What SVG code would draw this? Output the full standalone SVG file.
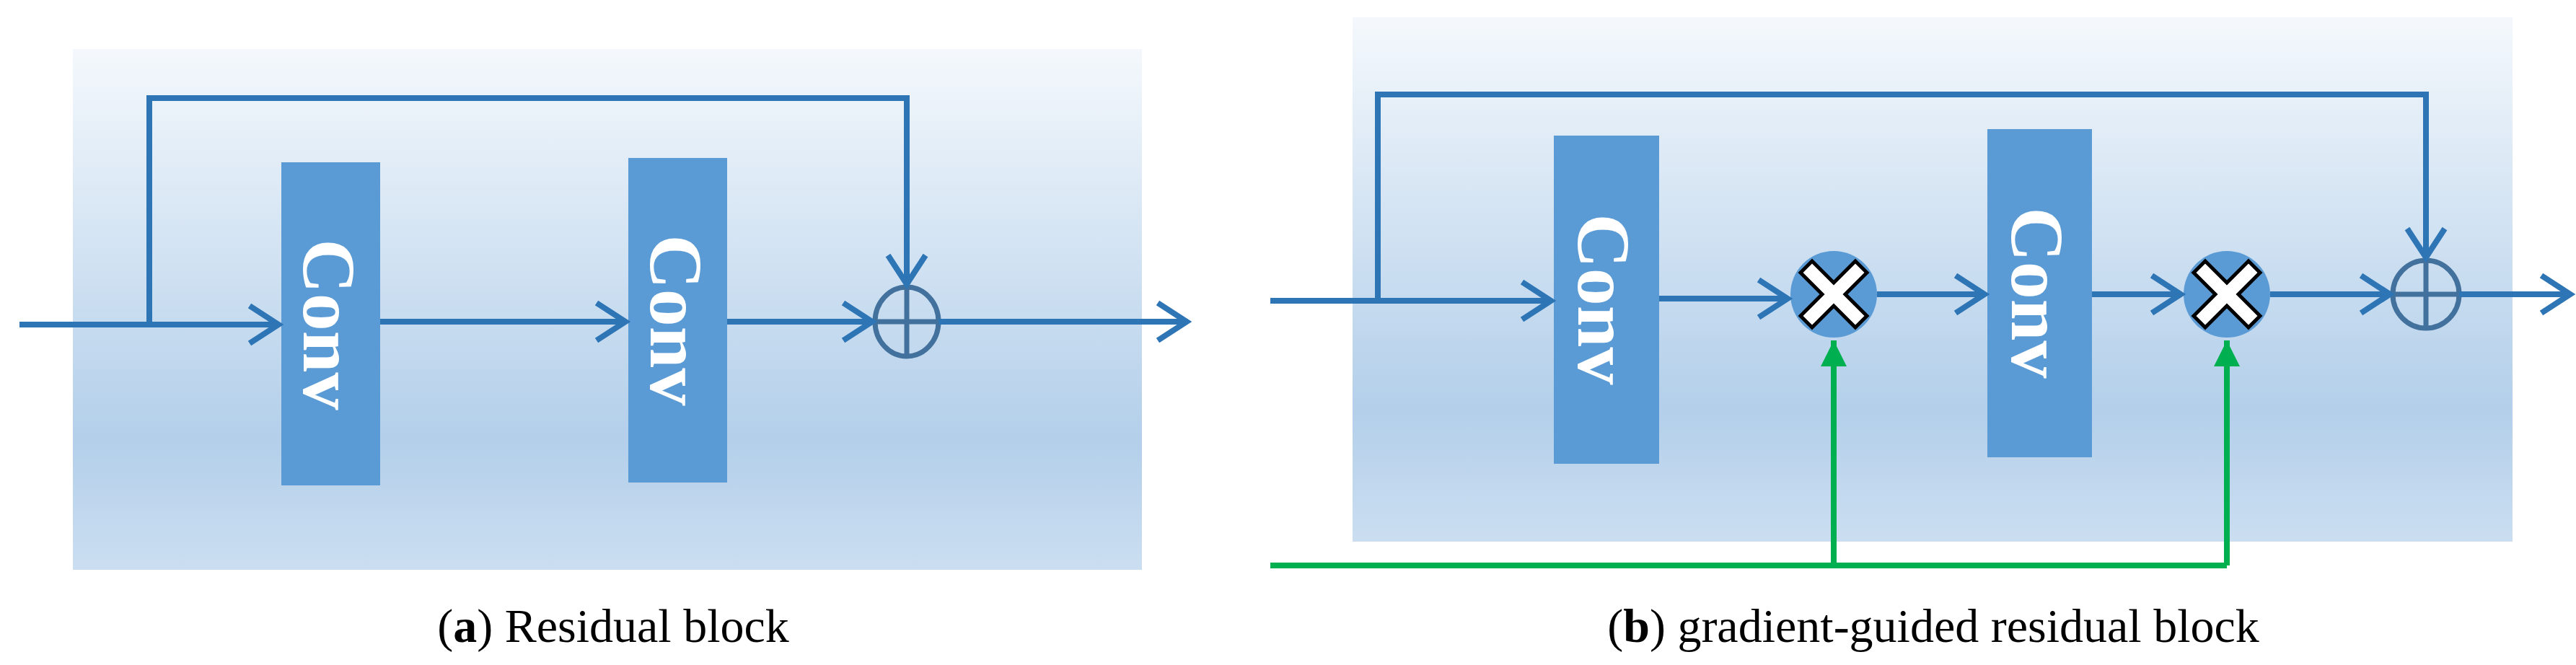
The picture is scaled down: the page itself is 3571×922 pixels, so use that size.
<svg xmlns="http://www.w3.org/2000/svg" width="3571" height="922" viewBox="0 0 3571 922">
<style>
.bg{fill:url(#g)}
.conv{fill:#5b9bd5}
.ct{fill:#fff;font-family:"Liberation Serif",serif;font-weight:bold;font-size:104px}
.ln{fill:none;stroke:#2e75b6;stroke-width:8}
.gr{fill:none;stroke:#00b050;stroke-width:8}
.plus{fill:none;stroke:#41719c;stroke-width:7}
.cap{font-family:"Liberation Serif",serif;font-size:66px;fill:#000}
</style>
<defs>
<linearGradient id="g" x1="0" y1="0" x2="0" y2="1">
<stop offset="0" stop-color="#f4f8fc"/>
<stop offset="0.75" stop-color="#b3cfea"/>
<stop offset="1" stop-color="#cbdef1"/>
</linearGradient>
<marker id="a" markerUnits="userSpaceOnUse" markerWidth="60" markerHeight="70" refX="44" refY="30" orient="auto" overflow="visible">
<path d="M4,4 L44,30 L4,56" fill="none" stroke="#2e75b6" stroke-width="8"/>
</marker>
<marker id="ag" markerUnits="userSpaceOnUse" markerWidth="40" markerHeight="50" refX="36" refY="18" orient="auto" overflow="visible">
<path d="M0,0 L36,18 L0,36 Z" fill="#00b050"/>
</marker>
<g id="xmark"><path d="M-30,-46 L0,-16 L30,-46 L46,-30 L16,0 L46,30 L30,46 L0,16 L-30,46 L-46,30 L-16,0 L-46,-30 Z" fill="#fff" stroke="#000" stroke-width="5"/></g>
</defs>
<rect class="bg" x="101" y="68" width="1482" height="722"/>
<rect class="bg" x="1875" y="24" width="1608" height="727"/>
<g id="a-conv1"><rect class="conv" x="390" y="225" width="137" height="448"/><text class="ct" transform="translate(421,450) rotate(90)" text-anchor="middle">Conv</text></g>
<g id="a-conv2"><rect class="conv" x="871" y="219" width="137" height="450"/><text class="ct" transform="translate(902,444) rotate(90)" text-anchor="middle">Conv</text></g>
<g id="a-plus"><ellipse class="plus" cx="1257" cy="446" rx="44" ry="48"/><path class="plus" d="M1257,398 V494 M1213,446 H1301"/></g>
<g id="b-conv1"><rect class="conv" x="2154" y="188" width="146" height="455"/><text class="ct" transform="translate(2188,415) rotate(90)" text-anchor="middle">Conv</text></g>
<g id="b-conv2"><rect class="conv" x="2755" y="179" width="145" height="455"/><text class="ct" transform="translate(2789,406) rotate(90)" text-anchor="middle">Conv</text></g>
<g id="b-mul1"><circle cx="2542" cy="408" r="60" fill="#5b9bd5"/><use href="#xmark" x="2542" y="408"/></g>
<g id="b-mul2"><circle cx="3087" cy="408" r="60" fill="#5b9bd5"/><use href="#xmark" x="3087" y="408"/></g>
<g id="b-plus"><ellipse class="plus" cx="3363" cy="408" rx="46" ry="47"/><path class="plus" d="M3363,361 V455 M3317,408 H3409"/></g>
<g id="connectors">
<path class="ln" d="M27,450 H386" marker-end="url(#a)"/>
<path class="ln" d="M207,450 V136 H1257 V394" marker-end="url(#a)"/>
<path class="ln" d="M527,446 H867" marker-end="url(#a)"/>
<path class="ln" d="M1008,446 H1209" marker-end="url(#a)"/>
<path class="ln" d="M1301,446 H1645" marker-end="url(#a)"/>
<path class="ln" d="M1761,417 H2150" marker-end="url(#a)"/>
<path class="ln" d="M1910,417 V131 H3363 V357" marker-end="url(#a)"/>
<path class="ln" d="M2300,414 H2478" marker-end="url(#a)"/>
<path class="ln" d="M2602,408 H2751" marker-end="url(#a)"/>
<path class="ln" d="M2900,408 H3023" marker-end="url(#a)"/>
<path class="ln" d="M3147,408 H3313" marker-end="url(#a)"/>
<path class="ln" d="M3409,408 H3563" marker-end="url(#a)"/>
<path class="gr" d="M1761,784 H3087"/>
<path class="gr" stroke-width="5" d="M2542,784 V472" marker-end="url(#ag)"/>
<path class="gr" stroke-width="5" d="M3087,784 V472" marker-end="url(#ag)"/>
</g>
<text class="cap" x="850" y="890" text-anchor="middle">(<tspan font-weight="bold">a</tspan>) Residual block</text>
<text class="cap" x="2680" y="890" text-anchor="middle">(<tspan font-weight="bold">b</tspan>) gradient-guided residual block</text>
</svg>
